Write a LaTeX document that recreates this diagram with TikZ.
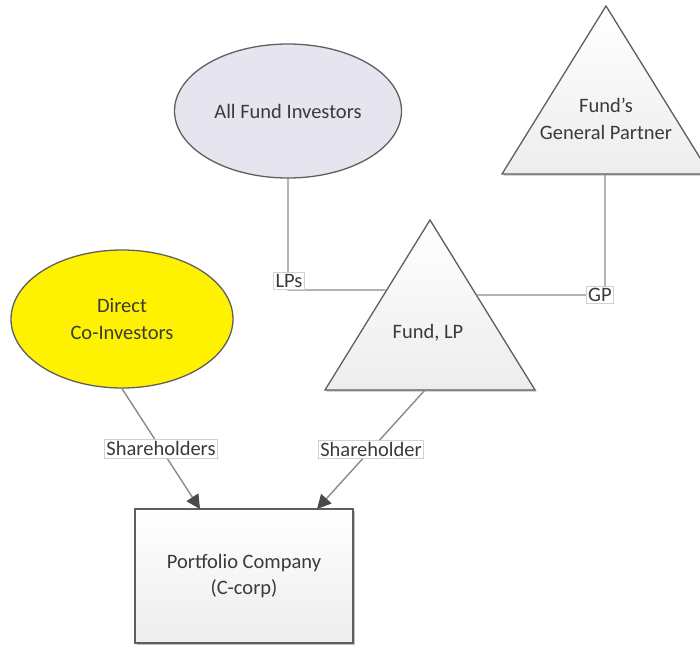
\documentclass[tikz,border=0pt]{standalone}
\usepackage{fontspec}
\setmainfont{Carlito}
\usetikzlibrary{arrows.meta,calc,shapes.geometric,shadows}
\definecolor{txt}{HTML}{3A3A3A}
\definecolor{edgec}{HTML}{5F5F5F}
\definecolor{connc}{HTML}{8A8A8A}
\definecolor{tipc}{HTML}{4A4A4A}
\definecolor{lav}{HTML}{E6E4EE}
\definecolor{shadeB}{HTML}{EDEDED}
\begin{document}
\begin{tikzpicture}[x=1pt,y=-1pt,
  font=\fontsize{20.5}{26.5}\selectfont, text=txt,
  shapeline/.style={draw=edgec, line width=1.3pt},
  grad/.style={top color=white, bottom color=shadeB},
  shad/.style={drop shadow={shadow xshift=1.5pt, shadow yshift=-1.5pt, fill=black, opacity=0.25}},
  conn/.style={draw=connc, line width=1.4pt},
  arr/.style={conn, -{Triangle[length=14pt,width=14pt,color=tipc]}},
  lbl/.style={fill=white, draw=black!18, line width=0.6pt, inner sep=2pt, text=txt}
]
\useasboundingbox (0,0) rectangle (700,648);

% shapes
\node[ellipse, shapeline, fill=lav, minimum width=227, minimum height=134, inner sep=0] (afi) at (288,111) {All Fund Investors};
\node[ellipse, shapeline, fill=yellow, minimum width=222, minimum height=138, inner sep=0, align=center] (dci) at (122,319) {Direct\\Co-Investors};

\coordinate (gA) at (606,6);
\coordinate (gL) at (502,174);
\coordinate (gR) at (710,174);
\draw[shapeline, grad, shad] (gA) -- (gR) -- (gL) -- cycle;
\node[align=center] (gpt) at (606,119) {Fund’s\\General Partner};

\coordinate (fA) at (430,220);
\coordinate (fL) at (325,390);
\coordinate (fR) at (535,390);
\draw[shapeline, grad, shad] (fA) -- (fR) -- (fL) -- cycle;
\node (fund) at (428,333) {Fund, LP};

\node[rectangle, shapeline, grad, shad, minimum width=218, minimum height=134, inner sep=0, align=center] (pc) at (244,576) {Portfolio Company\\(C-corp)};

% connectors
\coordinate (lpCorner) at (288,290);
\coordinate (fundLin) at ($(fA)!{70/170}!(fL)$);
\draw[conn] (afi.south) -- (lpCorner) -- (fundLin);
\node[lbl] (lps) at (289,281) {LPs};

\coordinate (gpB) at (605,174);
\coordinate (gpCorner) at (605,295);
\coordinate (fundRin) at ($(fA)!{75/170}!(fR)$);
\draw[conn] (gpB) -- (gpCorner) -- (fundRin);
\node[lbl] (gp) at (600,295) {GP};

\coordinate (pcIn1) at (200,509);
\coordinate (pcIn2) at (317,509);
\coordinate (fundOut) at (425,390);
\draw[arr] (dci.south) -- node[lbl] (sh1) {Shareholders} (pcIn1);
\draw[arr] (fundOut) -- node[lbl] (sh2) {Shareholder} (pcIn2);
\end{tikzpicture}
\end{document}
